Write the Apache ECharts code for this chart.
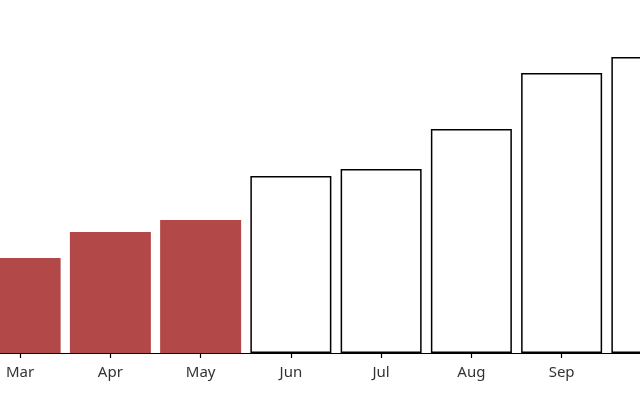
<!DOCTYPE html>
<html><head><meta charset="utf-8">
<script src="https://cdn.jsdelivr.net/npm/echarts@6/dist/echarts.min.js"></script>
<style>html,body{margin:0;padding:0;background:#fff;overflow:hidden;width:640px;height:400px}#c{width:722px;height:400px;margin-left:-25px}</style>
</head><body><div id="c"></div>
<script>
const categories = ['Mar','Apr','May','Jun','Jul','Aug','Sep','Oct'];
const actualValues = [95, 121, 133, null, null, null, null, null];
const forecastValues = [null, null, null, 177, 184, 224, 280, 296];

const chart = echarts.init(document.getElementById('c'));
chart.setOption({
  animation: false,
  grid: { left: 0, right: 0, top: 3, bottom: 47 },
  xAxis: {
    type: 'category', data: categories,
    axisLine: { lineStyle: { color: '#000', width: 1.2 } },
    axisTick: { show: true, alignWithLabel: true, length: 5, lineStyle: { color: '#000', width: 1.2 } },
    axisLabel: { color: '#333', fontSize: 15, fontFamily: 'Noto Sans', margin: 12, showMaxLabel: true }
  },
  yAxis: { type: 'value', min: 0, max: 350, show: false, splitLine: { show: false } },
  series: [
    { type: 'bar', data: actualValues, stack: 'a', barWidth: 81,
      itemStyle: { color: '#b34848' } },
    { type: 'bar', data: forecastValues, stack: 'a', barWidth: 81,
      itemStyle: { color: '#fff', borderColor: '#000', borderWidth: 1.5 } }
  ]
});
</script></body></html>
